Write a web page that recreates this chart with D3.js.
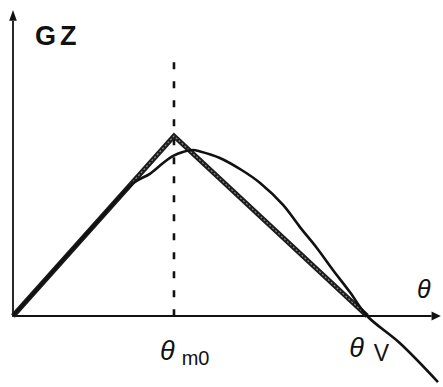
<!DOCTYPE html>
<html>
<head>
<meta charset="utf-8">
<script src="https://cdn.jsdelivr.net/npm/d3@7/dist/d3.min.js"></script>
<style>
  html, body { margin: 0; padding: 0; background: #fff; }
  svg { display: block; }
</style>
</head>
<body>
<svg id="chart" width="443" height="387"></svg>
<script>
// ---- data (theta in arbitrary units, GZ normalised to peak = 1) ----
const triTheta = [0, 40, 88];
const triGZ    = [0, 1, 0];

const curveTheta = [0, 10, 20, 30, 34, 37.3, 39.8, 42.2, 44.7, 46.5, 51.4, 56.8, 61.4, 67.1, 71.3, 75.5, 79.5, 83.7, 88, 96.1, 105.6];
const curveGZ    = [0, 0.25, 0.5, 0.74, 0.79, 0.85, 0.889, 0.911, 0.922, 0.914, 0.878, 0.811, 0.739, 0.617, 0.494, 0.378, 0.256, 0.133, 0, -0.15, -0.367];

const thetaM0 = 40;
const thetaV = 88;
const dashTopGZ = 1.41;

const axisLabelY = "GZ";
const axisLabelX = "θ";
const labelM0 = ["θ", "m0"];
const labelV = ["θ", "V"];

// ---- scales ----
const x = d3.scaleLinear().domain([0, 106]).range([13, 439.6]);
const y = d3.scaleLinear().domain([0, 1]).range([316, 136]);

const svg = d3.select("#chart");

// axes
svg.append("line")
  .attr("x1", x(0)).attr("x2", x(0))
  .attr("y1", y(0) + 1).attr("y2", y(1.64))
  .attr("stroke", "#111").attr("stroke-width", 1.8);
svg.append("path")
  .attr("d", `M${x(0)},${y(1.70)} L${x(0) - 3.8},${y(1.64)} L${x(0) + 3.8},${y(1.64)} Z`)
  .attr("fill", "#111");

svg.append("line")
  .attr("x1", x(0)).attr("x2", x(104))
  .attr("y1", y(0)).attr("y2", y(0))
  .attr("stroke", "#111").attr("stroke-width", 2);
svg.append("path")
  .attr("d", `M${x(106.3)},${y(0)} L${x(104)},${y(0) - 4.5} L${x(104)},${y(0) + 4.5} Z`)
  .attr("fill", "#111");

// dashed vertical at theta_m0
svg.append("line")
  .attr("x1", x(thetaM0)).attr("x2", x(thetaM0))
  .attr("y1", y(dashTopGZ)).attr("y2", y(0))
  .attr("stroke", "#111").attr("stroke-width", 2.6)
  .attr("stroke-dasharray", "7,12");

// triangle (thick textured line)
const triData = triTheta.map((t, i) => [t, triGZ[i]]);
const triLine = d3.line().x(d => x(d[0])).y(d => y(d[1]));
svg.append("path").datum(triData)
  .attr("d", triLine).attr("fill", "none")
  .attr("stroke", "#1c1c1c").attr("stroke-width", 5)
  .attr("stroke-linejoin", "miter");
svg.append("path").datum(triData)
  .attr("d", triLine).attr("fill", "none")
  .attr("stroke", "#8a8a8a").attr("stroke-width", 1.2)
  .attr("stroke-dasharray", "2,2");

// smooth GZ curve
const curveData = curveTheta.map((t, i) => [t, curveGZ[i]]);
svg.append("path").datum(curveData)
  .attr("d", d3.line().x(d => x(d[0])).y(d => y(d[1])).curve(d3.curveCatmullRom.alpha(0.5)))
  .attr("fill", "none")
  .attr("stroke", "#111").attr("stroke-width", 2.6);

// labels
svg.append("text")
  .attr("x", 35).attr("y", 45)
  .attr("font-family", "Liberation Sans, Arial, sans-serif")
  .attr("font-weight", "bold")
  .attr("font-size", 27).attr("letter-spacing", 4)
  .attr("fill", "#111")
  .text(axisLabelY);

svg.append("text")
  .attr("x", 417).attr("y", 298)
  .attr("font-family", "Liberation Sans, Arial, sans-serif")
  .attr("font-style", "italic")
  .attr("font-size", 25)
  .attr("fill", "#111")
  .text(axisLabelX);

const tM0 = svg.append("text")
  .attr("x", x(thetaM0) - 14).attr("y", 360)
  .attr("font-family", "Liberation Sans, Arial, sans-serif")
  .attr("fill", "#111");
tM0.append("tspan").attr("font-style", "italic").attr("font-size", 27).text(labelM0[0]);
tM0.append("tspan").attr("dx", 7).attr("dy", 5).attr("font-size", 20).text(labelM0[1]);

const tV = svg.append("text")
  .attr("x", x(thetaV) - 18).attr("y", 357)
  .attr("font-family", "Liberation Sans, Arial, sans-serif")
  .attr("fill", "#111");
tV.append("tspan").attr("font-style", "italic").attr("font-size", 27).text(labelV[0]);
tV.append("tspan").attr("dx", 10).attr("dy", 4).attr("font-size", 23).text(labelV[1]);
</script>
</body>
</html>
